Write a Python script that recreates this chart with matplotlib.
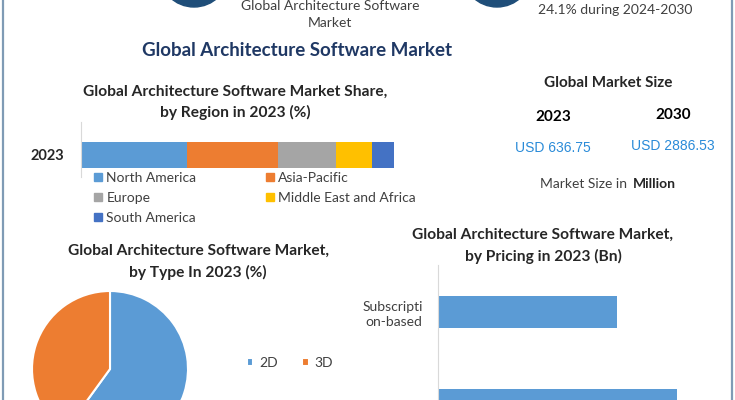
import matplotlib
matplotlib.use('Agg')
import matplotlib.pyplot as plt
from matplotlib.patches import Circle, Patch

plt.rcParams['font.family'] = ['Lato', 'DejaVu Sans']

W, H = 735, 400

# region share (%)
regions = ['North America', 'Asia-Pacific', 'Europe', 'Middle East and Africa', 'South America']
region_share = [33.9, 29.1, 18.5, 11.5, 7.0]
region_colors = ['#5b9bd5', '#ed7d31', '#a5a5a5', '#ffc000', '#4472c4']

# type split (%)
types = ['2D', '3D']
type_share = [60, 40]
type_colors = ['#5b9bd5', '#ed7d31']

# pricing (Bn) - second category is cut off by the bottom edge
pricing = ['Subscripti\non-based', 'Perpetual']
pricing_values = [0.27, 0.36]

size_years = ['2023', '2030']
size_values = ['USD 636.75', 'USD 2886.53']

navy = '#1f3864'
dark = '#262626'


def fx(x):
    return x / W


def fy(y):
    return 1 - y / H


def box(x0, y0, x1, y1):
    # pixel box (top-left origin) -> figure rect
    return [fx(x0), fy(y1), fx(x1) - fx(x0), fy(y0) - fy(y1)]


fig = plt.figure(figsize=(7.35, 4.0), dpi=100)
fig.patch.set_facecolor('white')

# background layer in pixel coords: frame lines and header circles
bg = fig.add_axes([0, 0, 1, 1], zorder=-1)
bg.set_xlim(0, W)
bg.set_ylim(H, 0)
bg.axis('off')
for xb in (3, 732):
    bg.plot([xb, xb], [0, H], color='#7f9bb5', lw=1.6)
for cx in (194, 497):
    bg.add_patch(Circle((cx, -28), 35, color='#1f4e79'))

fig.text(fx(330), fy(6), 'Global Architecture Software', ha='center', va='center',
         fontsize=10, color='#404040')
fig.text(fx(330), fy(23), 'Market', ha='center', va='center', fontsize=10, color='#404040')
fig.text(fx(615), fy(10), '24.1% during 2024-2030', ha='center', va='center',
         fontsize=10, color='#404040')

fig.text(fx(297), fy(51), 'Global Architecture Software Market', ha='center', va='center',
         fontsize=13.5, fontweight='bold', color=navy)

# ---- region stacked bar
ax1 = fig.add_axes(box(81, 122, 394, 177))
left = 0
for name, val, col in zip(regions, region_share, region_colors):
    ax1.barh(0, val, left=left, height=1.0, color=col, label=name)
    left += val
ax1.set_xlim(0, sum(region_share))
ax1.set_ylim(-1.27, 0.85)
ax1.invert_yaxis()
ax1.set_yticks([0])
ax1.set_yticklabels(['2023'])
for t in ax1.get_yticklabels():
    t.set_fontweight('bold')
    t.set_fontsize(10.5)
    t.set_color(dark)
ax1.tick_params(axis='y', length=0, pad=12)
ax1.set_xticks([])
for s in ('top', 'right', 'bottom'):
    ax1.spines[s].set_visible(False)
ax1.spines['left'].set_color('#d9d9d9')
fig.text(fx(235), fy(92), 'Global Architecture Software Market Share,', ha='center',
         va='center', fontsize=11.2, fontweight='bold', color=dark)
fig.text(fx(235), fy(112), 'by Region in 2023 (%)', ha='center', va='center',
         fontsize=11.2, fontweight='bold', color=dark)
order = [0, 2, 4, 1, 3]
handles = [Patch(color=region_colors[i]) for i in order]
labels = [regions[i] for i in order]
fig.legend(handles, labels, ncol=2, loc='upper left', bbox_to_anchor=(fx(94), fy(172)),
           frameon=False, fontsize=10, handlelength=0.55, handleheight=0.55,
           handletextpad=0.35, columnspacing=5.0, labelspacing=0.58, labelcolor='#404040',
           borderpad=0, borderaxespad=0)

# ---- market size block
fig.text(fx(608), fy(83), 'Global Market Size', ha='center', va='center',
         fontsize=11, fontweight='bold', color=dark)
for xc, yr, yv, year, val in zip((553, 673), (117, 115), (148, 146), size_years, size_values):
    fig.text(fx(xc), fy(yr), year, ha='center', va='center', fontsize=11,
             fontweight='bold', color='black')
    fig.text(fx(xc), fy(yv), val, ha='center', va='center', fontsize=10,
             color='#2a8bd8', family='Liberation Sans')
fig.text(fx(631), fy(184), 'Market Size in ', ha='right', va='center', fontsize=10,
         color='#404040')
fig.text(fx(633), fy(184), 'Million', ha='left', va='center', fontsize=10,
         fontweight='bold', color=dark)

# ---- pie by type
fig.text(fx(198), fy(251), 'Global Architecture Software Market,', ha='center',
         va='center', fontsize=11.2, fontweight='bold', color=dark)
fig.text(fx(198), fy(272), 'by Type In 2023 (%)', ha='center', va='center',
         fontsize=11.2, fontweight='bold', color=dark)
ax2 = fig.add_axes(box(32, 291, 188, 447))
wedges, _ = ax2.pie(type_share, colors=type_colors, startangle=90, counterclock=False,
                    wedgeprops=dict(edgecolor='white', linewidth=1.5))
ax2.set_xlim(-1, 1)
ax2.set_ylim(-1, 1)
ax2.set_aspect('equal')
fig.legend(wedges, types, ncol=2, loc='center left', bbox_to_anchor=(fx(247), fy(363)),
           frameon=False, fontsize=10, handlelength=0.45, handleheight=0.45,
           handletextpad=0.4, columnspacing=1.8, labelcolor='#404040',
           borderpad=0, borderaxespad=0)

# ---- pricing bars
fig.text(fx(543), fy(235), 'Global Architecture Software Market,', ha='center',
         va='center', fontsize=11.2, fontweight='bold', color=dark)
fig.text(fx(543), fy(256), 'by Pricing in 2023 (Bn)', ha='center', va='center',
         fontsize=11.2, fontweight='bold', color=dark)
ax3 = fig.add_axes(box(438, 265, 700, 400))
ax3.barh(range(len(pricing)), pricing_values, height=0.344, color='#5b9bd5')
ax3.set_xlim(0, 0.395)
ax3.set_ylim(0.946, -0.505)
ax3.set_yticks([0])
ax3.set_yticklabels(pricing[:1], fontsize=10, color='#404040', linespacing=1.3)
ax3.tick_params(axis='y', length=0, pad=11)
ax3.set_xticks([])
for s in ('top', 'right', 'bottom'):
    ax3.spines[s].set_visible(False)
ax3.spines['left'].set_color('#d9d9d9')

fig.savefig('out.png', dpi=100, facecolor='white')
